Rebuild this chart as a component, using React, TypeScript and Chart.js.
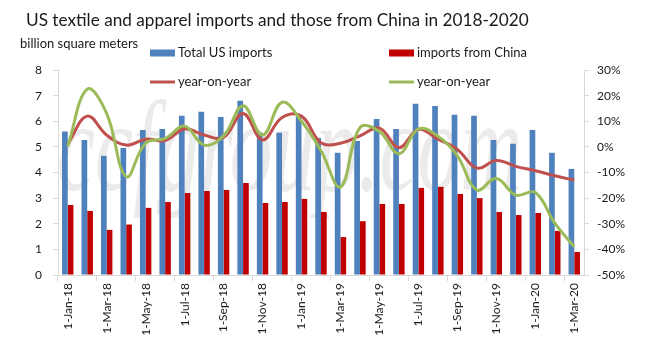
import React, { useEffect, useRef } from 'react';
import { Chart, registerables } from 'chart.js';

Chart.register(...registerables);

const categories = [
  '1-Jan-18', '1-Feb-18', '1-Mar-18', '1-Apr-18', '1-May-18', '1-Jun-18', '1-Jul-18', '1-Aug-18', '1-Sep-18',
  '1-Oct-18', '1-Nov-18', '1-Dec-18', '1-Jan-19', '1-Feb-19', '1-Mar-19', '1-Apr-19', '1-May-19', '1-Jun-19',
  '1-Jul-19', '1-Aug-19', '1-Sep-19', '1-Oct-19', '1-Nov-19', '1-Dec-19', '1-Jan-20', '1-Feb-20', '1-Mar-20',
];

const totalImports = [5.6, 5.27, 4.65, 4.96, 5.66, 5.7, 6.21, 6.37, 6.17, 6.8, 5.55, 5.55, 6.2, 5.35, 4.77, 5.23, 6.09, 5.7, 6.68, 6.6, 6.25, 6.21, 5.27, 5.12, 5.66, 4.77, 4.14];
const chinaImports = [2.73, 2.5, 1.76, 1.97, 2.62, 2.85, 3.2, 3.28, 3.32, 3.59, 2.81, 2.85, 2.97, 2.46, 1.48, 2.1, 2.77, 2.77, 3.4, 3.44, 3.16, 3.0, 2.46, 2.34, 2.42, 1.72, 0.9];
const yoyTotal = [1, 12, 4.6, 0.7, 3, 2.5, 7, 4.6, 3.7, 13, 2.7, 11.5, 12, 1.6, 1.4, 4.3, 7.3, -0.3, 6.8, 3, -1, -8.3, -5.3, -7.6, -9.3, -11.3, -13];
const yoyChina = [0.2, 22.5, 13, -11.6, 1.5, 3.3, 8.1, 0.7, 4.3, 16, 4.6, 17.4, 10, -1.5, -15.6, 7.5, 6, -2.7, 7, 4.2, -3.5, -16.8, -12.3, -18.8, -17.8, -29.8, -39];

const leftMin = 0;
const leftMax = 8;
const rightMin = -50;
const rightMax = 30;

const TITLE = 'US textile and apparel imports and those from China in 2018-2020';
const UNIT = 'billion square meters';
const WATERMARK = 'ccfgroup.com';

const FONT = 'Lato, "Noto Sans", sans-serif';
const BLUE = '#4F81BD';
const DARKRED = '#C00000';
const LINERED = '#C0504D';
const GREEN = '#9BBB59';
const AXIS = '#D9D9D9';
const TEXT = '#1a1a1a';

const legendItems = [
  { label: 'Total US imports', color: BLUE, kind: 'box', x: 150, y: 53 },
  { label: 'imports from China', color: DARKRED, kind: 'box', x: 389, y: 53 },
  { label: 'year-on-year', color: LINERED, kind: 'line', x: 150, y: 82 },
  { label: 'year-on-year', color: GREEN, kind: 'line', x: 389, y: 82 },
];

const decorPlugin = {
  id: 'decor',
  beforeDatasetsDraw(chart: any) {
    const ctx = chart.ctx;
    ctx.save();
    ctx.fillStyle = 'rgba(205,205,205,0.4)';
    ctx.font = 'italic 130px "Liberation Serif", serif';
    ctx.textBaseline = 'alphabetic';
    ctx.textAlign = 'left';
    const w = ctx.measureText(WATERMARK).width;
    const sx = 465 / w;
    ctx.translate(57, 190);
    ctx.scale(sx, 1);
    ctx.fillText(WATERMARK, 0, 0);
    ctx.restore();
  },
  afterDraw(chart: any) {
    const ctx = chart.ctx;
    ctx.save();
    ctx.fillStyle = TEXT;
    ctx.textBaseline = 'middle';
    ctx.textAlign = 'left';
    ctx.font = `18px ${FONT}`;
    const tw = ctx.measureText(TITLE).width;
    const size = Math.min(20, (18 * 503) / tw);
    ctx.font = `${size.toFixed(2)}px ${FONT}`;
    ctx.fillText(TITLE, 26, 20);
    ctx.font = `13px ${FONT}`;
    ctx.fillText(UNIT, 20, 44);
    for (const it of legendItems) {
      ctx.fillStyle = it.color;
      if (it.kind === 'box') {
        ctx.fillRect(it.x, it.y - 3.5, 25, 7);
      } else {
        ctx.fillRect(it.x, it.y - 1.5, 25, 3);
      }
      ctx.fillStyle = TEXT;
      ctx.fillText(it.label, it.x + 28, it.y);
    }
    ctx.restore();
  },
};

export default function App() {
  const ref = useRef<HTMLCanvasElement | null>(null);
  useEffect(() => {
    if (!ref.current) return;
    const tickFont = { family: FONT, size: 12 };
    const chart = new Chart(ref.current, {
      type: 'bar',
      data: {
        labels: categories,
        datasets: [
          { type: 'bar', label: 'Total US imports', data: totalImports, backgroundColor: BLUE, yAxisID: 'y', order: 3, categoryPercentage: 0.585, barPercentage: 1 } as any,
          { type: 'bar', label: 'imports from China', data: chinaImports, backgroundColor: DARKRED, yAxisID: 'y', order: 3, categoryPercentage: 0.585, barPercentage: 1 } as any,
          { type: 'line', label: 'year-on-year', data: yoyTotal, borderColor: LINERED, borderWidth: 3, tension: 0.4, pointRadius: 0, yAxisID: 'y1', order: 2, fill: false } as any,
          { type: 'line', label: 'year-on-year', data: yoyChina, borderColor: GREEN, borderWidth: 3, tension: 0.4, pointRadius: 0, yAxisID: 'y1', order: 1, fill: false } as any,
        ],
      },
      options: {
        responsive: false,
        animation: false,
        layout: { padding: { top: 70, left: 0, right: 0, bottom: 0 } },
        plugins: { legend: { display: false }, tooltip: { enabled: false }, title: { display: false } },
        scales: {
          x: {
            type: 'category',
            offset: true,
            afterFit: (s: any) => { s.height = 76; },
            grid: {
              display: true,
              drawOnChartArea: false,
              drawTicks: true,
              tickLength: 6,
              offset: true,
              tickColor: (c: any) => (c.index % 2 === 0 ? AXIS : 'rgba(0,0,0,0)'),
            },
            border: { display: true, color: AXIS },
            ticks: {
              autoSkip: false,
              maxRotation: 90,
              minRotation: 90,
              padding: 2,
              color: TEXT,
              font: tickFont,
              callback: (_v: any, i: number) => (i % 2 === 0 ? categories[i] : ''),
            },
          },
          y: {
            position: 'left',
            min: leftMin,
            max: leftMax,
            afterFit: (s: any) => { s.width = 58; },
            grid: { drawOnChartArea: false, tickLength: 5, tickColor: AXIS },
            border: { display: true, color: AXIS },
            ticks: { stepSize: 1, padding: 11, color: TEXT, font: tickFont },
          },
          y1: {
            position: 'right',
            min: rightMin,
            max: rightMax,
            afterFit: (s: any) => { s.width = 75; },
            grid: { drawOnChartArea: false, tickLength: 5, tickColor: AXIS },
            border: { display: true, color: AXIS },
            ticks: { stepSize: 10, padding: 8, color: TEXT, font: tickFont, callback: (v: any) => `${v}%` },
          },
        },
      } as any,
      plugins: [decorPlugin],
    });
    return () => chart.destroy();
  }, []);
  return (
    <div style={{ position: 'absolute', left: 0, top: 0, width: 659, height: 351, background: '#fff' }}>
      <canvas ref={ref} width={659} height={351} style={{ width: 659, height: 351, display: 'block' }} />
    </div>
  );
}
